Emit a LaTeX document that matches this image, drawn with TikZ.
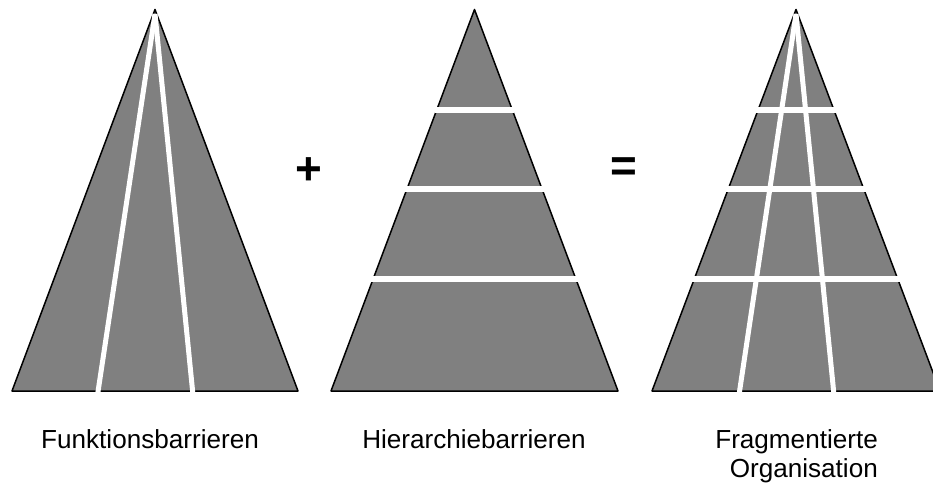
\documentclass[tikz,border=0pt]{standalone}
\usepackage{fontspec}
\setmainfont{Liberation Sans}
\usetikzlibrary{calc}
\definecolor{pyrgray}{HTML}{808080}
\begin{document}
\begin{tikzpicture}[x=1bp,y=-1bp,
  pyr/.style={fill=pyrgray,draw=black,line width=1.5bp,line join=round},
  fbar/.style={draw=white,line width=5bp},
  hbar/.style={draw=white,line width=5.5bp},
  lbl/.style={font=\fontsize{26.2}{30}\selectfont,inner sep=0pt,anchor=base},
  op/.style={font=\fontsize{46}{46}\selectfont\bfseries,inner sep=0pt}]
\useasboundingbox (0,0) rectangle (933,486);
\begin{scope}
\clip (0,0) rectangle (933,486);
% triangle 1
\coordinate (A1) at (155,9.5);
\coordinate (L1) at (12,391);
\coordinate (R1) at (298,391);
\path[pyr] (A1) -- (L1) -- (R1) -- cycle;
\coordinate (F1a) at (97.5,395);
\coordinate (F1b) at (193,395);
\coordinate (T1) at (155,14);
\draw[fbar] (T1) -- (F1a);
\draw[fbar] (T1) -- (F1b);
% triangle 2
\coordinate (A2) at (474.5,9.5);
\coordinate (L2) at (331,391);
\coordinate (R2) at (618,391);
\path[pyr] (A2) -- (L2) -- (R2) -- cycle;
\foreach \f in {0.263,0.471,0.707}{
  \draw[hbar] ($(A2)!\f!(L2)+(-2,0)$) -- ($(A2)!\f!(R2)+(2,0)$);
}
% triangle 3
\coordinate (A3) at (796,9.5);
\coordinate (L3) at (652,391);
\coordinate (R3) at (940,391);
\path[pyr] (A3) -- (L3) -- (R3) -- cycle;
\coordinate (F3a) at (739,395);
\coordinate (F3b) at (834,395);
\coordinate (T3) at (796,14);
\draw[fbar] (T3) -- (F3a);
\draw[fbar] (T3) -- (F3b);
\foreach \f in {0.263,0.471,0.707}{
  \draw[hbar] ($(A3)!\f!(L3)+(-2,0)$) -- ($(A3)!\f!(R3)+(2,0)$);
}
\end{scope}
% operators
\node[op] (plus) at (309,171) {+};
\node[op] (eq) at (624,170) {=};
% labels
\node[lbl] (l1) at (150,448) {Funktionsbarrieren};
\node[lbl] (l2) at (474,448) {Hierarchiebarrieren};
\node[lbl,anchor=base east] (l3) at (878,448)
  {\begin{tabular}[t]{@{}r@{}}Fragmentierte\\Organisation\end{tabular}};
\end{tikzpicture}
\end{document}
